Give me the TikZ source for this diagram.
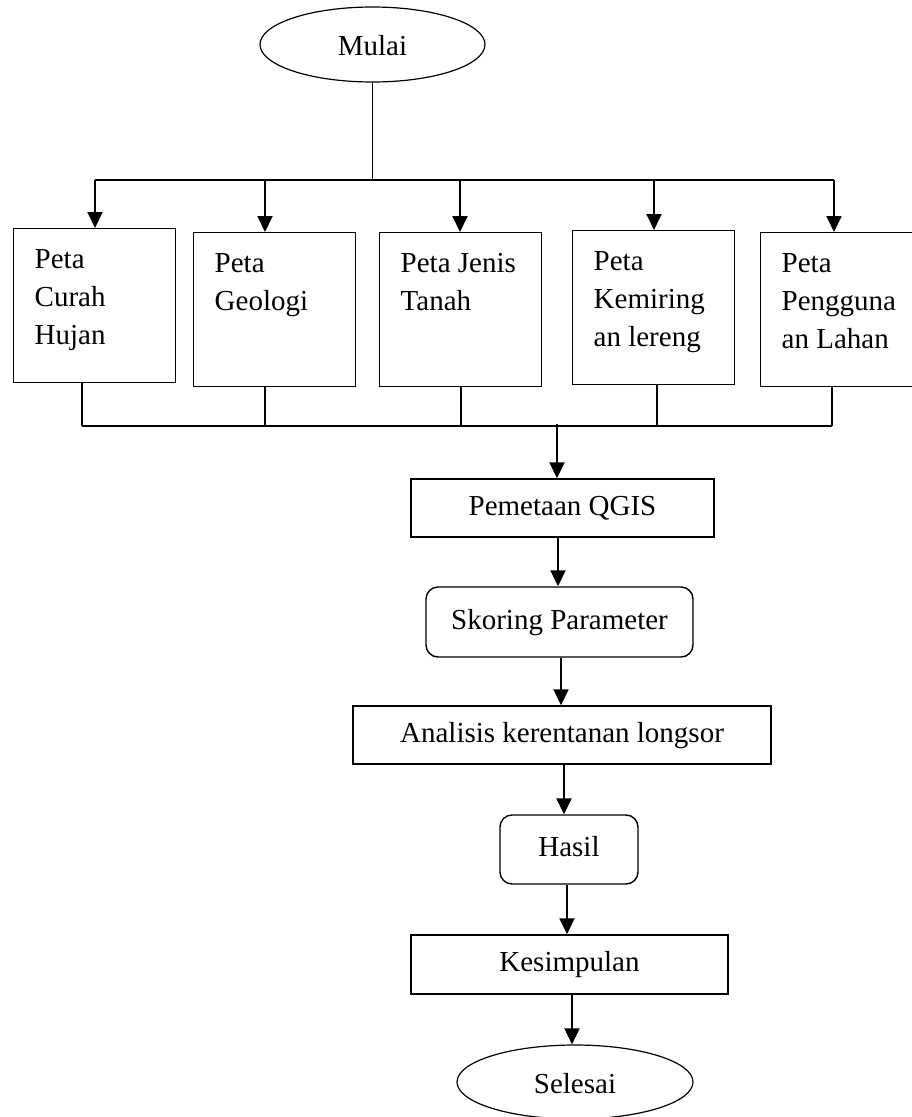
\documentclass[tikz,border=0pt]{standalone}
\usepackage{fontspec}
\setmainfont{Liberation Serif}
\usetikzlibrary{arrows.meta,shapes.geometric}
\newcommand\mapbox[1]{\parbox[c][154pt][t]{162pt}{\raggedright\leftskip=21pt\parindent=0pt\rule{0pt}{40pt}#1}}
\begin{document}
\begin{tikzpicture}[x=1pt,y=-1pt,
  every node/.style={font=\fontsize{29}{38}\selectfont},
  mapbox/.style={draw,line width=1.4pt,inner sep=0pt,anchor=north west},
  flowbox/.style={draw,line width=1.4pt,inner sep=0pt,text height=20pt,text depth=6pt},
  roundbox/.style={flowbox,rounded corners=12pt},
  oval/.style={draw,ellipse,line width=1.2pt,inner sep=0pt,text height=24pt,text depth=2pt},
  arr/.style={line width=1.9pt,-{Triangle[length=16pt,width=15pt]}},
  thinline/.style={line width=1.3pt},
  barline/.style={line width=1.9pt}]
\useasboundingbox (0,0) rectangle (911,1117);

% start
\node[oval,minimum width=225pt,minimum height=75pt] (mulai) at (372.5,44.5) {Mulai};

% map boxes
\node[mapbox] (b1) at (13,228) {\mapbox{Peta\\Curah\\Hujan}};
\node[mapbox] (b2) at (193,232) {\mapbox{Peta\\Geologi}};
\node[mapbox] (b3) at (379,232) {\mapbox{Peta Jenis\\Tanah}};
\node[mapbox] (b4) at (572,230) {\mapbox{Peta\\Kemiring\\an lereng}};
\node[mapbox] (b5) at (760,232) {\mapbox{Peta\\Pengguna\\an Lahan}};

% process chain
\node[flowbox,minimum width=303pt,minimum height=58pt] (pem) at (562.5,508) {Pemetaan QGIS};
\node[roundbox,minimum width=267pt,minimum height=70pt] (sko) at (559.5,622) {Skoring Parameter};
\node[flowbox,minimum width=418pt,minimum height=58pt] (ana) at (562,735) {Analisis kerentanan longsor};
\node[roundbox,minimum width=138pt,minimum height=69pt] (has) at (569,849.5) {Hasil};
\node[flowbox,minimum width=317pt,minimum height=59pt] (kes) at (569.5,964.5) {Kesimpulan};
\node[oval,minimum width=236pt,minimum height=74pt] (sel) at (575,1082) {Selesai};

% top distribution
\coordinate (top) at (372.5,180);
\coordinate (s1) at (95,180);
\coordinate (s2) at (265,180);
\coordinate (s3) at (460,180);
\coordinate (s4) at (654,180);
\coordinate (s5) at (834,180);
\draw[thinline] (mulai.south) -- (top);
\draw[barline] (s1) -- (s5);
\draw[arr] (s1) -- (s1 |- b1.north);
\draw[arr] (s2) -- (s2 |- b2.north);
\draw[arr] (s3) -- (s3 |- b3.north);
\draw[arr] (s4) -- (s4 |- b4.north);
\draw[arr] (s5) -- (s5 |- b5.north);

% bottom collection
\coordinate (j1) at (82,426);
\coordinate (j2) at (265,426);
\coordinate (j3) at (461,426);
\coordinate (j4) at (657,426);
\coordinate (j5) at (832,426);
\coordinate (m) at (557,424);
\draw[thinline] (j1 |- b1.south) -- (j1);
\draw[thinline] (j2 |- b2.south) -- (j2);
\draw[thinline] (j3 |- b3.south) -- (j3);
\draw[thinline] (j4 |- b4.south) -- (j4);
\draw[thinline] (j5 |- b5.south) -- (j5);
\draw[thinline] (j1) -- (j5);
\draw[arr] (m) -- (m |- pem.north);

% chain arrows
\draw[arr] (pem.south -| 558,0) -- (sko.north -| 558,0);
\draw[arr] (sko.south -| 561,0) -- (ana.north -| 561,0);
\draw[arr] (ana.south -| 564,0) -- (has.north -| 564,0);
\draw[arr] (has.south -| 567,0) -- (kes.north -| 567,0);
\draw[arr] (kes.south -| 572,0) -- (sel.north -| 572,0);
\end{tikzpicture}
\end{document}
